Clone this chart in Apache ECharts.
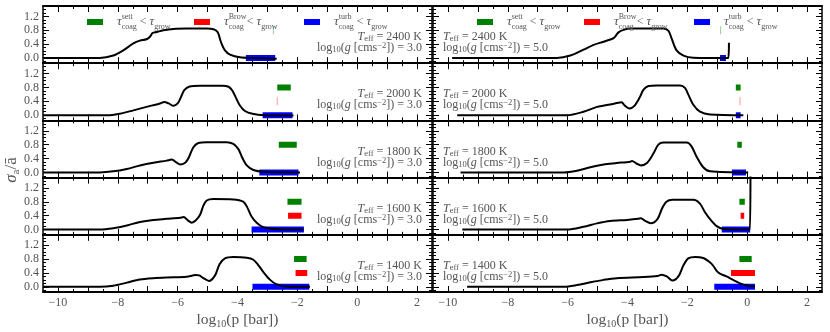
<!DOCTYPE html>
<html>
<head>
<meta charset="utf-8">
<script src="https://cdn.jsdelivr.net/npm/echarts@6/dist/echarts.min.js"></script>
<style>
  html, body { margin: 0; padding: 0; background: #fff; }
  #chart { width: 830px; height: 332px; }
</style>
</head>
<body>
<div id="chart"></div>
<script>
// panel labels
const temps = [2400, 2000, 1800, 1600, 1400];
const loggLabels = ['3.0', '5.0'];

// axis ticks
const xMajorTicks = [-10, -9, -8, -7, -6, -5, -4, -3, -2, -1, 0, 1, 2];
const xMinorTicks = [-9.5, -8.5, -7.5, -6.5, -5.5, -4.5, -3.5, -2.5, -1.5, -0.5, 0.5, 1.5];
const xLabelValues = [-10, -8, -6, -4, -2, 0, 2];
const yLabelValues = [0, 0.4, 0.8, 1.2];
const yMinorTicks = [-0.1, 0.1, 0.2, 0.3, 0.5, 0.6, 0.7, 0.9, 1.0, 1.1, 1.3, 1.4];

// sigma_a / a-bar curves, log g = 3.0
const curveG3T2400 = [[-10.5,0],[-8.6,0],[-8.15,0.07],[-7.82,0.22],[-7.48,0.42],[-7.26,0.5],[-7.04,0.54],[-6.92,0.62],[-6.84,0.72],[-6.7,0.75],[-6.48,0.8],[-6.14,0.84],[-5.7,0.85],[-5.03,0.85],[-4.8,0.83],[-4.66,0.74],[-4.55,0.45],[-4.42,0.22],[-4.25,0.1],[-3.92,0.02],[-3.47,0],[-2.69,-0.02]];
const curveG3T2000 = [[-10.5,0],[-8.26,0],[-7.93,0.04],[-7.48,0.14],[-7.04,0.24],[-6.59,0.34],[-6.45,0.38],[-6.3,0.34],[-6.14,0.27],[-6.0,0.34],[-5.9,0.5],[-5.78,0.72],[-5.6,0.83],[-5.25,0.85],[-4.5,0.85],[-4.3,0.82],[-4.18,0.72],[-4.05,0.5],[-3.92,0.28],[-3.75,0.12],[-3.5,0.04],[-3.1,0],[-2.13,-0.01]];
const curveG3T1800 = [[-10.5,0],[-8.6,0],[-8.15,0.03],[-7.7,0.1],[-7.26,0.2],[-6.81,0.28],[-6.37,0.34],[-6.2,0.37],[-6.03,0.28],[-5.92,0.23],[-5.75,0.28],[-5.64,0.41],[-5.48,0.72],[-5.31,0.85],[-5.03,0.87],[-4.36,0.87],[-4.14,0.82],[-3.97,0.67],[-3.86,0.46],[-3.69,0.2],[-3.47,0.07],[-3.14,0.02],[-1.91,0]];
const curveG3T1600 = [[-10.5,0],[-8.6,0],[-8.15,0.04],[-7.7,0.12],[-7.26,0.22],[-6.81,0.28],[-6.37,0.31],[-5.92,0.34],[-5.8,0.36],[-5.65,0.26],[-5.53,0.2],[-5.4,0.26],[-5.25,0.43],[-5.14,0.69],[-5.03,0.84],[-4.81,0.88],[-4.14,0.87],[-3.81,0.81],[-3.69,0.67],[-3.53,0.38],[-3.36,0.2],[-3.14,0.07],[-2.8,0.02],[-1.8,0]];
const curveG3T1400 = [[-10.5,0],[-8.6,0],[-8.15,0.03],[-7.7,0.12],[-7.26,0.21],[-6.81,0.25],[-6.37,0.27],[-5.7,0.29],[-5.4,0.34],[-5.28,0.33],[-5.14,0.25],[-4.95,0.17],[-4.75,0.33],[-4.6,0.65],[-4.42,0.82],[-4.14,0.86],[-3.69,0.84],[-3.47,0.78],[-3.3,0.62],[-3.14,0.43],[-2.91,0.2],[-2.69,0.07],[-2.36,0.01],[-1.58,0]];

// sigma_a / a-bar curves, log g = 5.0
const curveG5T2400 = [[-9.86,0],[-6.36,0],[-5.91,0.07],[-5.47,0.24],[-5.13,0.38],[-4.8,0.47],[-4.47,0.57],[-4.41,0.62],[-4.3,0.74],[-4.13,0.81],[-3.91,0.85],[-2.8,0.85],[-2.63,0.78],[-2.52,0.55],[-2.36,0.22],[-2.13,0.07],[-1.8,0.01],[-0.63,0],[-0.61,0.44]];
const curveG5T2000 = [[-9.69,0],[-6.02,0],[-5.47,0.1],[-5.02,0.24],[-4.58,0.31],[-4.3,0.36],[-4.2,0.37],[-4.08,0.27],[-3.93,0.19],[-3.78,0.26],[-3.6,0.5],[-3.47,0.73],[-3.3,0.84],[-3.02,0.86],[-2.24,0.86],[-2.08,0.79],[-1.97,0.6],[-1.8,0.3],[-1.58,0.1],[-1.24,0.02],[-0.13,0]];
const curveG5T1800 = [[-9.58,0],[-6.13,0],[-5.69,0.05],[-5.24,0.15],[-4.8,0.23],[-4.36,0.27],[-3.91,0.31],[-3.85,0.33],[-3.69,0.25],[-3.55,0.2],[-3.35,0.27],[-3.13,0.55],[-2.97,0.8],[-2.8,0.86],[-2.02,0.86],[-1.86,0.75],[-1.69,0.45],[-1.47,0.15],[-1.24,0.03],[0.03,0]];
const curveG5T1600 = [[-9.52,0],[-6.02,0],[-5.47,0.08],[-5.02,0.18],[-4.58,0.25],[-4.02,0.28],[-3.65,0.31],[-3.55,0.33],[-3.41,0.25],[-3.22,0.18],[-3.0,0.3],[-2.85,0.6],[-2.7,0.8],[-2.5,0.86],[-1.8,0.86],[-1.58,0.75],[-1.41,0.5],[-1.24,0.3],[-1.02,0.1],[-0.8,0.02],[0.09,0],[0.11,1.7]];
const curveG5T1400 = [[-9.36,0],[-6.13,0],[-5.69,0.05],[-5.24,0.13],[-4.8,0.2],[-4.36,0.25],[-3.47,0.28],[-3.0,0.31],[-2.86,0.35],[-2.69,0.3],[-2.5,0.18],[-2.3,0.3],[-2.13,0.62],[-1.97,0.82],[-1.74,0.86],[-1.47,0.83],[-1.24,0.7],[-1.13,0.6],[-1.02,0.46],[-0.91,0.38],[-0.69,0.3],[-0.47,0.2],[-0.24,0.1],[-0.02,0.04],[0.26,0.01]];

// pressure ranges (log10 p) where tau_coag < tau_grow, one entry per temperature
const settG3 = [[-2.80,-2.80],[-2.67,-2.22],[-2.62,-2.02],[-2.33,-1.86],[-2.11,-1.69]];
const browG3 = [null,[-2.67,-2.67],null,[-2.31,-1.86],[-2.06,-1.67]];
const turbG3 = [[-3.72,-2.74],[-3.16,-2.16],[-3.27,-1.96],[-3.53,-1.78],[-3.50,-1.60]];
const settG5 = [[-0.89,-0.89],[-0.38,-0.22],[-0.33,-0.18],[-0.26,-0.08],[-0.26,0.15]];
const browG5 = [null,[-0.24,-0.24],null,[-0.22,-0.10],[-0.54,0.26]];
const turbG5 = [[-0.91,-0.71],[-0.38,-0.22],[-0.51,-0.04],[-0.85,0.10],[-1.10,0.26]];
const barLevels = [0.8, 0.4, 0.0];
const barNames = ['sett', 'Brow', 'turb'];
const barColors = ['#008000', '#ff0000', '#0000ff'];

const curves = [
  [curveG3T2400, curveG3T2000, curveG3T1800, curveG3T1600, curveG3T1400],
  [curveG5T2400, curveG5T2000, curveG5T1800, curveG5T1600, curveG5T1400]
];
const bars = [[settG3, browG3, turbG3], [settG5, browG5, turbG5]];

const X_MIN = -10.5, X_MAX = 2.5, Y_MIN = -0.15, Y_MAX = 1.5;
const FONT = 'Liberation Serif';
const TXT = '#555';
const PANEL_H = 57.2;

function xAxisDef(gi, pos, ticks, len, withLine, labels) {
  return {
    type: 'value', gridIndex: gi, position: pos, min: X_MIN, max: X_MAX,
    axisLine: { show: withLine, onZero: false, lineStyle: { color: '#000', width: 1.8 } },
    axisTick: { show: true, inside: true, length: len, customValues: ticks, lineStyle: { color: '#000', width: 1 } },
    axisLabel: labels ? {
      show: true, customValues: xLabelValues, margin: 5,
      fontFamily: FONT, fontSize: 12, color: TXT,
      formatter: v => String(v).replace('-', '\u2212')
    } : { show: false },
    splitLine: { show: false }
  };
}
function yAxisDef(gi, pos, ticks, len, withLine, labels) {
  return {
    type: 'value', gridIndex: gi, position: pos, min: Y_MIN, max: Y_MAX,
    axisLine: { show: withLine, onZero: false, lineStyle: { color: '#000', width: 1.5 } },
    axisTick: { show: true, inside: true, length: len, customValues: ticks, lineStyle: { color: '#000', width: 1 } },
    axisLabel: labels ? {
      show: true, customValues: yLabelValues, margin: 4,
      fontFamily: FONT, fontSize: 12, color: TXT,
      formatter: v => v.toFixed(1)
    } : { show: false },
    splitLine: { show: false }
  };
}

const grids = [], xAxes = [], yAxes = [], series = [], markers = [], graphic = [];
for (let c = 0; c < 2; c++) {
  for (let r = 0; r < 5; r++) {
    const gi = c * 5 + r;
    const top = 6 + r * PANEL_H;
    grids.push({ left: c === 0 ? 43 : 433, top: top, width: 389, height: PANEL_H });
    const bottomRow = r === 4;
    xAxes.push(xAxisDef(gi, 'bottom', xMajorTicks, 6, true, bottomRow));
    xAxes.push(xAxisDef(gi, 'bottom', xMinorTicks, 3, false, false));
    xAxes.push(xAxisDef(gi, 'top', xMajorTicks, 6, true, false));
    xAxes.push(xAxisDef(gi, 'top', xMinorTicks, 3, false, false));
    if (bottomRow) {
      xAxes[4 * gi].name = 'log{s|10}(p [bar])';
      xAxes[4 * gi].nameLocation = 'middle';
      xAxes[4 * gi].nameGap = 19;
      xAxes[4 * gi].nameTextStyle = {
        fontFamily: FONT, fontSize: 15.5, color: TXT, lineHeight: 18,
        rich: { s: { fontFamily: FONT, fontSize: 10, color: TXT, verticalAlign: 'bottom', lineHeight: 11 } }
      };
    }
    yAxes.push(yAxisDef(gi, 'left', yLabelValues, 6, true, c === 0));
    yAxes.push(yAxisDef(gi, 'left', yMinorTicks, 3, false, false));
    yAxes.push(yAxisDef(gi, 'right', yLabelValues, 6, true, false));
    yAxes.push(yAxisDef(gi, 'right', yMinorTicks, 3, false, false));

    // coagulation ranges as thick horizontal bars
    for (let k = 0; k < 3; k++) {
      const rg = bars[c][k][r];
      if (!rg) continue;
      if (rg[0] === rg[1]) {
        markers.push({ gi: gi, k: k, x: rg[0] });
        continue;
      }
      series.push({
        name: barNames[k], type: 'line', xAxisIndex: 4 * gi, yAxisIndex: 4 * gi,
        data: [[rg[0], barLevels[k]], [rg[1], barLevels[k]]],
        showSymbol: false, symbol: 'none', z: 2, silent: true,
        itemStyle: { color: barColors[k] },
        lineStyle: { color: barColors[k], width: 6, cap: 'butt' }
      });
    }
    series.push({
      name: 'curve', type: 'line', xAxisIndex: 4 * gi, yAxisIndex: 4 * gi,
      data: curves[c][r], smooth: 0.3, showSymbol: false, symbol: 'none', z: 3, silent: true,
      lineStyle: { color: '#000', width: 2 }
    });

    // panel annotations
    const tx = c === 0 ? 422 : 443;
    const al = c === 0 ? 'right' : 'left';
    const sub = { fontFamily: FONT, fontSize: 8.5, fill: TXT, verticalAlign: 'bottom', lineHeight: 8 };
    graphic.push({
      type: 'text', x: tx, y: top + 31, z: 10,
      style: {
        text: '{i|T}{s|eff} = ' + temps[r] + ' K', align: al, verticalAlign: 'middle',
        fill: TXT, fontFamily: FONT, fontSize: 12, lineHeight: 13,
        rich: {
          i: { fontFamily: FONT, fontSize: 12, fontStyle: 'italic', fill: TXT, lineHeight: 13 },
          s: sub
        }
      }
    });
    graphic.push({
      type: 'text', x: tx, y: top + 42, z: 10,
      style: {
        text: 'log{s|10}({i|g} [cms{p|\u22122}]) = ' + loggLabels[c], align: al, verticalAlign: 'middle',
        fill: TXT, fontFamily: FONT, fontSize: 12, lineHeight: 13,
        rich: {
          i: { fontFamily: FONT, fontSize: 12, fontStyle: 'italic', fill: TXT, lineHeight: 13 },
          s: sub,
          p: { fontFamily: FONT, fontSize: 8.5, fill: TXT, verticalAlign: 'top', lineHeight: 8 }
        }
      }
    });
  }
}

// zero-width ranges show up only as a faint sliver
markers.forEach(m => {
  series.push({
    name: barNames[m.k], type: 'scatter', xAxisIndex: 4 * m.gi, yAxisIndex: 4 * m.gi,
    data: [[m.x, barLevels[m.k]]], symbol: 'rect', symbolSize: [1.2, 8], z: 2, silent: true,
    itemStyle: { color: barColors[m.k], opacity: 0.35 }
  });
});

// y axis title
graphic.push({
  type: 'text', x: 12, y: 170, rotation: Math.PI / 2, z: 10,
  style: {
    text: '{g|\u03c3}{s|a}/\u0101', align: 'center', verticalAlign: 'middle',
    fill: TXT, fontFamily: FONT, fontSize: 17, lineHeight: 20,
    rich: {
      g: { fontFamily: FONT, fontSize: 17, fontStyle: 'italic', fill: TXT, lineHeight: 20 },
      s: { fontFamily: FONT, fontSize: 11, fill: TXT, verticalAlign: 'bottom', lineHeight: 12 }
    }
  }
});

// one legend per entry so each sits where it should
const legendLeft = [[87, 194, 304], [477, 584, 694]];
const legends = [];
for (let c = 0; c < 2; c++) {
  for (let k = 0; k < 3; k++) {
    legends.push({
      data: [{ name: barNames[k], itemStyle: { color: barColors[k] } }],
      left: legendLeft[c][k], top: 13, icon: 'rect', itemWidth: 16, itemHeight: 6,
      selectedMode: false, padding: 0,
      formatter: name => '{t|\u03c4}{u|' + name + '}{b|coag}{o| < }{t2|\u03c4}{b|grow}',
      textStyle: {
        fontFamily: FONT, fontSize: 12, color: TXT, lineHeight: 18,
        rich: {
          t: { fontFamily: FONT, fontSize: 13, fontStyle: 'italic', color: TXT, lineHeight: 18, padding: [0, 0, 0, 9] },
          t2: { fontFamily: FONT, fontSize: 13, fontStyle: 'italic', color: TXT, lineHeight: 18 },
          u: { fontFamily: FONT, fontSize: 8, color: TXT, width: 0, verticalAlign: 'top', lineHeight: 9 },
          b: { fontFamily: FONT, fontSize: 8, color: TXT, verticalAlign: 'bottom', lineHeight: 9 },
          o: { fontFamily: FONT, fontSize: 12, color: TXT, lineHeight: 18 }
        }
      }
    });
  }
}

const chart = echarts.init(document.getElementById('chart'), null, { renderer: 'canvas' });
chart.setOption({
  animation: false,
  backgroundColor: '#fff',
  grid: grids,
  xAxis: xAxes,
  yAxis: yAxes,
  legend: legends,
  graphic: graphic,
  series: series
});
</script>
</body>
</html>
